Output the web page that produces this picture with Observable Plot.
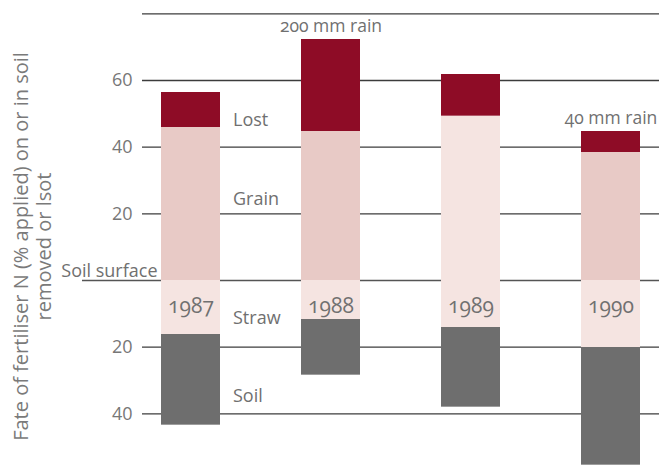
<!DOCTYPE html>
<html>
<head>
<meta charset="utf-8">
<script src="https://cdn.jsdelivr.net/npm/d3@7"></script>
<script src="https://cdn.jsdelivr.net/npm/@observablehq/plot@0.6"></script>
<style>
  html, body { margin: 0; padding: 0; background: white; }
  #chart svg { display: block; }
</style>
</head>
<body>
<div id="chart"></div>
<script>
// ---- data ----
const years = ["1987", "1988", "1989", "1990"];
const grain = [45.9, 44.7, 49.3, 38.4];   // % above soil surface, removed in grain
const lost  = [10.5, 27.6, 12.5, 6.3];    // % lost
const straw = [16.2, 11.7, 14.1, 20.1];   // % below line: straw
const soil  = [27.2, 16.7, 23.9, 35.3];   // % remaining in soil
const parts = ["Grain", "Lost", "Straw", "Soil"];
const partColors = ["#e8cac6", "#8e0c26", "#f5e4e1", "#6e6e6e"];
const grainUnsplitYears = ["1989"];       // grain not shaded separately from straw
const rainNotes = [{year: "1988", text: "200 mm rain"}, {year: "1990", text: "40 mm rain"}];
const gridValues = [80, 60, 40, 20, -20, -40];
const tickValues = [60, 40, 20, -20, -40];
const partLabels = ["Lost", "Grain", "Straw", "Soil"];
const yTitle = "Fate of fertiliser N (% applied) on or in soil\nremoved or lsot";

// ---- build table ----
const rows = years.flatMap((year, i) => [
  {year, part: "Grain", y1: 0, y2: grain[i]},
  {year, part: "Lost", y1: grain[i], y2: grain[i] + lost[i]},
  {year, part: "Straw", y1: -straw[i], y2: 0},
  {year, part: "Soil", y1: -straw[i] - soil[i], y2: -straw[i]}
]);
const colorOf = new Map(parts.map((p, i) => [p, partColors[i]]));
const fillOf = d => (d.part === "Grain" && grainUnsplitYears.includes(d.year)) ? colorOf.get("Straw") : colorOf.get(d.part);
const tops = new Map(years.map((y, i) => [y, grain[i] + lost[i]]));
const labelY = {"Lost": 48, "Grain": 24.3, "Straw": -11.4, "Soil": -34.8};

const chart = Plot.plot({
  width: 659,
  height: 472,
  marginLeft: 142,
  marginRight: 0,
  marginTop: 0,
  marginBottom: 0,
  style: {fontFamily: "'Open Sans', 'Noto Sans', sans-serif", fontVariantNumeric: "oldstyle-nums", color: "#707070", background: "white"},
  x: {domain: years, padding: 0.58, paddingOuter: 0.128, axis: null},
  y: {domain: [-57.6, 84]},
  marks: [
    Plot.ruleY(gridValues, {stroke: "#3c3c3c", strokeWidth: 1.3}),
    Plot.ruleY([0], {stroke: "#555", strokeWidth: 1.3, insetLeft: -60}),
    Plot.barY(rows, {x: "year", y1: "y1", y2: "y2", fill: fillOf, inset: 0}),
    Plot.axisY({ticks: tickValues, tickSize: 0, tickPadding: 10, tickFormat: d => Math.abs(d), fontSize: 18, fill: "#777", label: null}),
    Plot.text(["Soil surface"], {frameAnchor: "left", y: () => 0, dx: 15, dy: -9, textAnchor: "end", fontSize: 18, fill: "#707070"}),
    Plot.text(years, {x: d => d, y: () => 0, dy: 26, text: d => d, fontSize: 21, fill: "#707070"}),
    Plot.text(rainNotes, {x: "year", y: d => tops.get(d.year), dy: -13, text: "text", fontSize: 17.5, fill: "#707070"}),
    Plot.text(partLabels, {x: () => years[0], y: d => labelY[d], dx: 42, text: d => d, textAnchor: "start", fontSize: 18, fill: "#707070"}),
    Plot.text([yTitle], {frameAnchor: "left", rotate: -90, dx: -110, dy: 10, lineHeight: 1.12, textAnchor: "middle", fontSize: 20, fill: "#7a7a7a"})
  ]
});
document.getElementById("chart").appendChild(chart);
</script>
</body>
</html>
